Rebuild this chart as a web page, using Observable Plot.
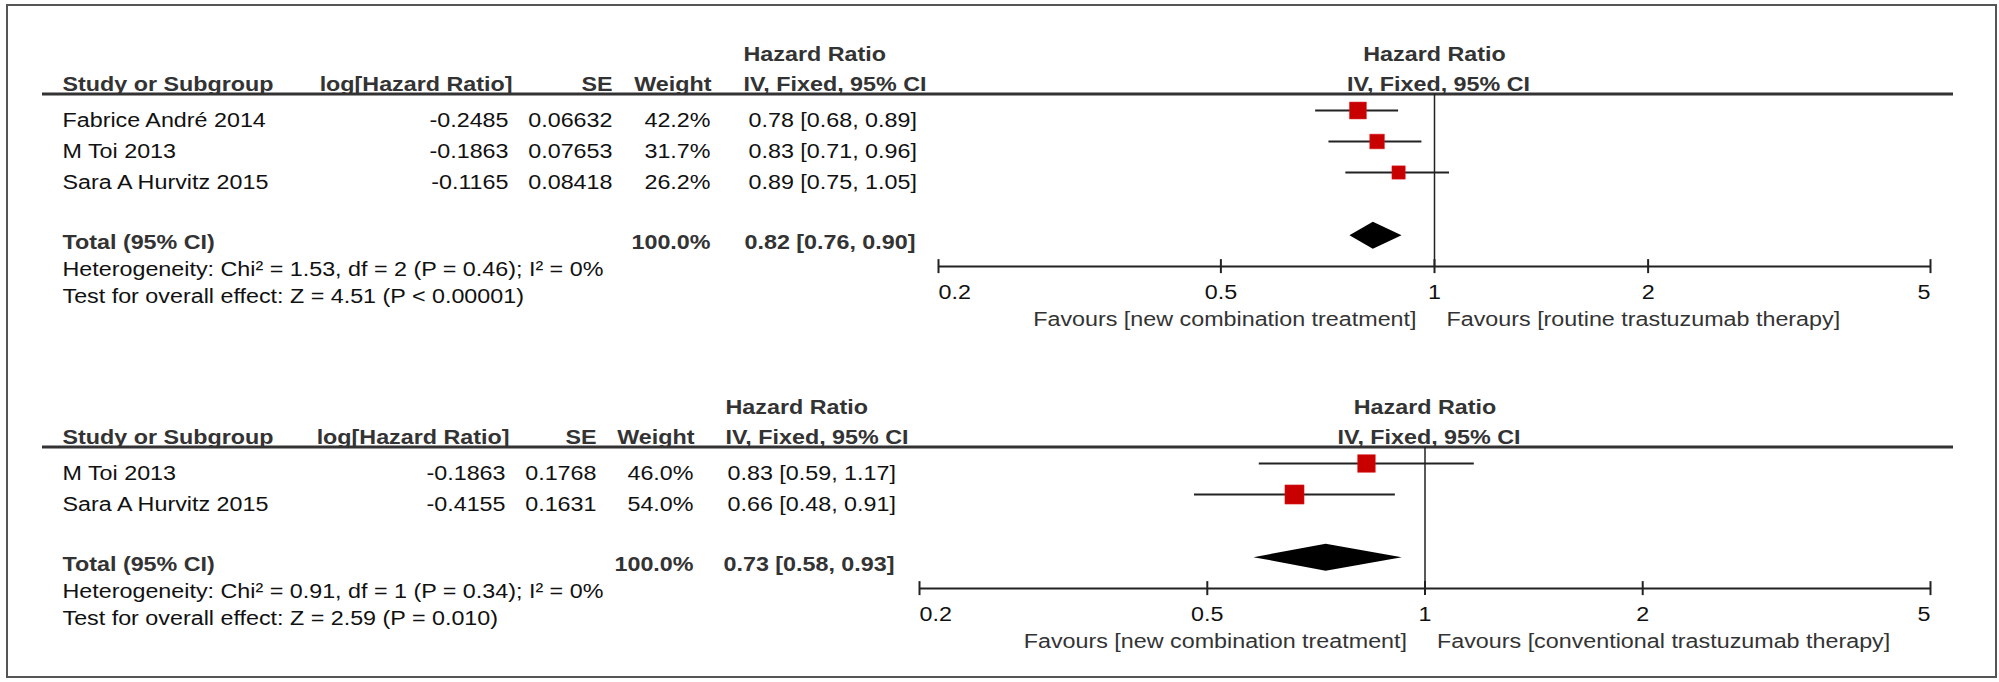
<!DOCTYPE html>
<html><head><meta charset="utf-8">
<script src="https://cdn.jsdelivr.net/npm/d3@7"></script>
<script src="https://cdn.jsdelivr.net/npm/@observablehq/plot@0.6"></script>
<style>
html,body{margin:0;padding:0;background:#fff;}
#wrap{position:relative;width:1999px;height:682px;overflow:hidden;background:#fff;}
#border{position:absolute;left:6px;top:4px;width:1987px;height:670px;border:2px solid #555;}
.panel{position:absolute;left:0;}
</style></head>
<body><div id="wrap"><div id="border"></div></div>
<script>
// ---------- DATA ----------
// Panel 1
const studies1 = ["Fabrice André 2014", "M Toi 2013", "Sara A Hurvitz 2015"];
const logHR1 = [-0.2485, -0.1863, -0.1165];
const se1 = [0.06632, 0.07653, 0.08418];
const weight1 = [42.2, 31.7, 26.2];
const hr1 = [0.78, 0.83, 0.89];
const lo1 = [0.68, 0.71, 0.75];
const hi1 = [0.89, 0.96, 1.05];
const total1 = [0.82, 0.76, 0.90]; // estimate, lower, upper
const totalWeight1 = 100.0;
const het1 = "Heterogeneity: Chi² = 1.53, df = 2 (P = 0.46); I² = 0%";
const test1 = "Test for overall effect: Z = 4.51 (P < 0.00001)";
const favours1 = ["Favours [new combination treatment]", "Favours [routine trastuzumab therapy]"];

// Panel 2
const studies2 = ["M Toi 2013", "Sara A Hurvitz 2015"];
const logHR2 = [-0.1863, -0.4155];
const se2 = [0.1768, 0.1631];
const weight2 = [46.0, 54.0];
const hr2 = [0.83, 0.66];
const lo2 = [0.59, 0.48];
const hi2 = [1.17, 0.91];
const total2 = [0.73, 0.58, 0.93];
const totalWeight2 = 100.0;
const het2 = "Heterogeneity: Chi² = 0.91, df = 1 (P = 0.34); I² = 0%";
const test2 = "Test for overall effect: Z = 2.59 (P = 0.010)";
const favours2 = ["Favours [new combination treatment]", "Favours [conventional trastuzumab therapy]"];

// Axis ticks and headers
const xTicks = [0.2, 0.5, 1, 2, 5];
const colHeaders = ["Study or Subgroup", "log[Hazard Ratio]", "SE", "Weight", "IV, Fixed, 95% CI"];
const effectHeader = "Hazard Ratio";
const totalLabel = "Total (95% CI)";

// ---------- LAYOUT (positions/styles only) ----------
const layout1 = {top: 0, base: 126, xRange: [938, 1930], name: 62, logHead: 512, logHR: 508, se: 612, weight: 710, ciHead: 743, ci: 748};
const layout2 = {top: 341, base: 138, xRange: [919, 1930], name: 62, logHead: 509, logHR: 505, se: 596, weight: 693, ciHead: 725, ci: 727};
const U = 31;          // px per row
const STRETCH = 1.11;  // horizontal text stretch of the original rendering
const FONT = "'Liberation Sans', Arial, sans-serif";

const fmtCI = (e, l, h) => `${e.toFixed(2)} [${l.toFixed(2)}, ${h.toFixed(2)}]`;

function drawPanel(d, L) {
  const n = d.studies.length;
  const rows = d.studies.map((s, i) => ({
    i, name: s, logHR: d.logHR[i], se: d.se[i], w: d.weight[i], hr: d.hr[i], lo: d.lo[i], hi: d.hi[i]
  }));
  const slot = {hr: -2.1, head: -1.16, line: -1.05, total: n + 0.94, het: n + 1.82, test: n + 2.7, axis: n + 1.52};
  slot.tick = slot.axis + 1.06;
  slot.fav = slot.axis + 1.93;
  const [tEst, tLo, tHi] = d.total;
  const h = 13.5 / U;
  const diamond = [
    {y: slot.total - h, x1: tEst, x2: tEst},
    {y: slot.total, x1: tLo, x2: tHi},
    {y: slot.total + h, x1: tEst, x2: tEst}
  ];
  const T = {fontSize: 21, lineAnchor: "bottom", frameAnchor: "left"};
  const col = (text, y, px, anchor, extra = {}) =>
    Plot.text([text], {...T, y: () => y, text: (t) => t, dx: px, textAnchor: anchor, ...extra});
  const HB = {fontWeight: "bold", fill: "#333"};

  const marks = [
    // header line
    Plot.ruleY([slot.line], {insetLeft: 42, insetRight: 46, stroke: "#333", strokeWidth: 3}),
    // column headers
    col(effectHeader, slot.hr, L.ciHead, "start", HB),
    col(colHeaders[0], slot.head, L.name, "start", HB),
    col(colHeaders[1], slot.head, L.logHead, "end", HB),
    col(colHeaders[2], slot.head, L.se, "end", HB),
    col(colHeaders[3], slot.head, L.weight + 1, "end", HB),
    col(colHeaders[4], slot.head, L.ciHead, "start", HB),
    Plot.text([effectHeader], {...T, x: () => 1, y: () => slot.hr, text: (t) => t, textAnchor: "middle", ...HB}),
    Plot.text([colHeaders[4]], {...T, x: () => 1, y: () => slot.head, text: (t) => t, textAnchor: "middle", dx: 4, ...HB}),
    // study rows
    Plot.text(rows, {...T, y: "i", text: "name", dx: L.name, textAnchor: "start", fill: "#111"}),
    Plot.text(rows, {...T, y: "i", text: (r) => String(r.logHR), dx: L.logHR, textAnchor: "end", fill: "#111"}),
    Plot.text(rows, {...T, y: "i", text: (r) => String(r.se), dx: L.se, textAnchor: "end", fill: "#111"}),
    Plot.text(rows, {...T, y: "i", text: (r) => r.w.toFixed(1) + "%", dx: L.weight, textAnchor: "end", fill: "#111"}),
    Plot.text(rows, {...T, y: "i", text: (r) => fmtCI(r.hr, r.lo, r.hi), dx: L.ci, textAnchor: "start", fill: "#111"}),
    // total row
    col(totalLabel, slot.total, L.name, "start", HB),
    col(d.totalWeight.toFixed(1) + "%", slot.total, L.weight, "end", HB),
    col(fmtCI(tEst, tLo, tHi), slot.total, L.ci - 4, "start", HB),
    col(d.het, slot.het, L.name, "start", {fill: "#111"}),
    col(d.test, slot.test, L.name, "start", {fill: "#111"}),
    // null line
    Plot.ruleX([1], {y1: () => slot.line, y2: () => slot.axis, stroke: "#222", strokeWidth: 1.5}),
    // CIs and squares
    Plot.ruleY(rows, {y: "i", x1: "lo", x2: "hi", dy: -16, stroke: "#222", strokeWidth: 2}),
    Plot.dot(rows, {x: "hr", y: "i", r: "w", symbol: "square", fill: "#c80000", stroke: "#d22", strokeWidth: 0.5, dy: -16}),
    // diamond
    Plot.areaX(diamond, {y: "y", x1: "x1", x2: "x2", fill: "#000", dy: -13}),
    // axis
    Plot.ruleY([slot.axis], {x1: () => xTicks[0], x2: () => xTicks[xTicks.length - 1], stroke: "#222", strokeWidth: 2}),
    Plot.ruleX(xTicks, {x: (v) => v, y1: () => slot.axis - 7 / U, y2: () => slot.axis + 7 / U, stroke: "#222", strokeWidth: 2}),
    Plot.text(xTicks.slice(0, 1), {...T, x: (v) => v, y: () => slot.tick, text: (v) => String(v), textAnchor: "start", fill: "#111"}),
    Plot.text(xTicks.slice(1, -1), {...T, x: (v) => v, y: () => slot.tick, text: (v) => String(v), textAnchor: "middle", fill: "#111"}),
    Plot.text(xTicks.slice(-1), {...T, x: (v) => v, y: () => slot.tick, text: (v) => String(v), textAnchor: "end", fill: "#111"}),
    // favours labels
    Plot.text([d.favours[0]], {...T, x: () => 1, y: () => slot.fav, text: (t) => t, textAnchor: "end", dx: -18, fill: "#333"}),
    Plot.text([d.favours[1]], {...T, x: () => 1, y: () => slot.fav, text: (t) => t, textAnchor: "start", dx: 12, fill: "#333"})
  ];

  const svg = Plot.plot({
    width: 1999,
    height: 341,
    margin: 0,
    x: {type: "log", domain: [xTicks[0], xTicks[xTicks.length - 1]], range: L.xRange, axis: null},
    y: {type: "linear", domain: [-4, 8], range: [L.base - 4 * U, L.base + 8 * U], axis: null},
    r: {type: "sqrt", domain: [0, 100], range: [0, 14.7]},
    style: {fontFamily: FONT, background: "transparent", overflow: "visible"},
    marks
  });
  // stretch text horizontally around its anchor
  svg.querySelectorAll("text").forEach((t) => {
    let x0 = parseFloat(t.getAttribute("x") || "0") || 0;
    const dxa = t.getAttribute("dx");
    if (dxa && !/em/.test(dxa)) x0 += parseFloat(dxa) || 0;
    const tr = t.getAttribute("transform") || "";
    t.setAttribute("transform", `${tr} translate(${x0},0) scale(${STRETCH},1) translate(${-x0},0)`);
  });
  svg.classList.add("panel");
  svg.style.top = L.top + "px";
  return svg;
}

const wrap = document.getElementById("wrap");
wrap.appendChild(drawPanel({studies: studies1, logHR: logHR1, se: se1, weight: weight1, hr: hr1, lo: lo1, hi: hi1,
  total: total1, totalWeight: totalWeight1, het: het1, test: test1, favours: favours1}, layout1));
wrap.appendChild(drawPanel({studies: studies2, logHR: logHR2, se: se2, weight: weight2, hr: hr2, lo: lo2, hi: hi2,
  total: total2, totalWeight: totalWeight2, het: het2, test: test2, favours: favours2}, layout2));
</script>
</body></html>
